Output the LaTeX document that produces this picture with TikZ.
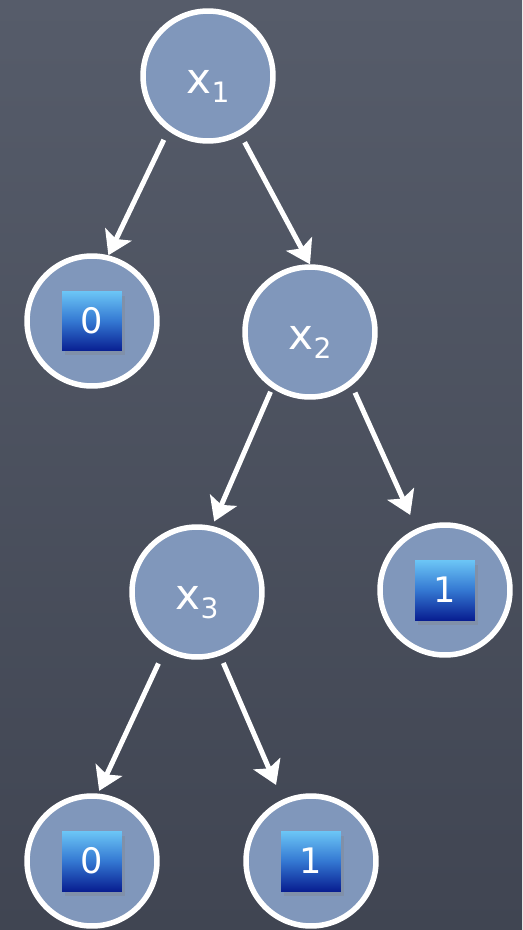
\documentclass[tikz,border=0pt]{standalone}
\usepackage{fontspec}
\setmainfont{DejaVu Sans}
\usepackage{tikz}
\usetikzlibrary{arrows.meta, shapes, shadows}

\definecolor{boardtop}{RGB}{86,92,106}
\definecolor{boardbottom}{RGB}{64,69,82}
\definecolor{nodeblue}{RGB}{128,151,187}
\definecolor{tiletop}{RGB}{108,198,246}
\definecolor{tilemid}{RGB}{52,120,210}
\definecolor{tilebottom}{RGB}{8,30,145}

% variable label with a lowered index
\newcommand{\xvar}[1]{x\raisebox{-0.4ex}{\fontsize{16}{16}\selectfont #1}}

\begin{document}
\begin{tikzpicture}[x=0.02cm, y=-0.02cm,
  decision/.style={circle, draw=white, line width=0.11cm, fill=nodeblue,
    minimum size=2.6cm, inner sep=0pt, text=white,
    text height=0.7cm, text depth=0cm,
    font=\fontsize{24}{24}\selectfont},
  %
  leaf/.style={circle, draw=white, line width=0.11cm, fill=nodeblue,
    minimum size=2.6cm, inner sep=0pt},
  %
  terminal/.style={rectangle, minimum size=1.2cm, inner sep=0pt,
    top color=tiletop, bottom color=tilebottom, middle color=tilemid,
    drop shadow={opacity=0.3, shadow xshift=0.06cm, shadow yshift=-0.09cm},
    text=white, font=\fontsize{20}{20}\selectfont},
  %
  branch/.style={-{Stealth[length=0.46cm, width=0.58cm, inset=0.1cm]},
    white, line width=0.1cm}
  ]

  \fill [top color=boardtop, bottom color=boardbottom] (0,0) rectangle (522,930);
  \useasboundingbox (0,0) rectangle (522,930);

  \begin{scope}
    %%%%%%%%%%%%%%%%%%%%%%%%%%%%%%%
    \node [decision] (x1) at (208,76) {\xvar{1}};
    \node [decision] (x2) at (310,332) {\xvar{2}};
    \node [decision] (x3) at (197,592) {\xvar{3}};
    %%%%%%%%%%%%%%%%%%%%%%%%%%%%%%%
    \node [leaf] (zeroA) at (92,321) {};
    \node [leaf] (oneA) at (445,590) {};
    \node [leaf] (zeroB) at (92,861) {};
    \node [leaf] (oneB) at (311,861) {};
    %%%%%%%%%%%%%%%%%%%%%%%%%%%%%%%
    \node [terminal] (zeroAval) at (zeroA) {0};
    \node [terminal] (oneAval) at (oneA) {1};
    \node [terminal] (zeroBval) at (zeroB) {0};
    \node [terminal] (oneBval) at (oneB) {1};
  \end{scope}

  \begin{scope}
    \draw [branch, shorten <=0.2cm] (x1.234) -- (zeroA.76);
    \draw [branch, shorten <=0.16cm] (x1.299) -- (x2.90);
    \draw [branch, shorten <=0.08cm, shorten >=0.1cm] (x2.236) -- (x3.77);
    \draw [branch, shorten <=0.16cm, shorten >=0.3cm] (x2.308) -- (oneA.115);
    \draw [branch, shorten <=0.27cm, shorten >=0.06cm] (x3.241) -- (zeroB.85);
    \draw [branch, shorten <=0.16cm, shorten >=0.32cm] (x3.290) -- (oneB.115);
  \end{scope}

\end{tikzpicture}
\end{document}
